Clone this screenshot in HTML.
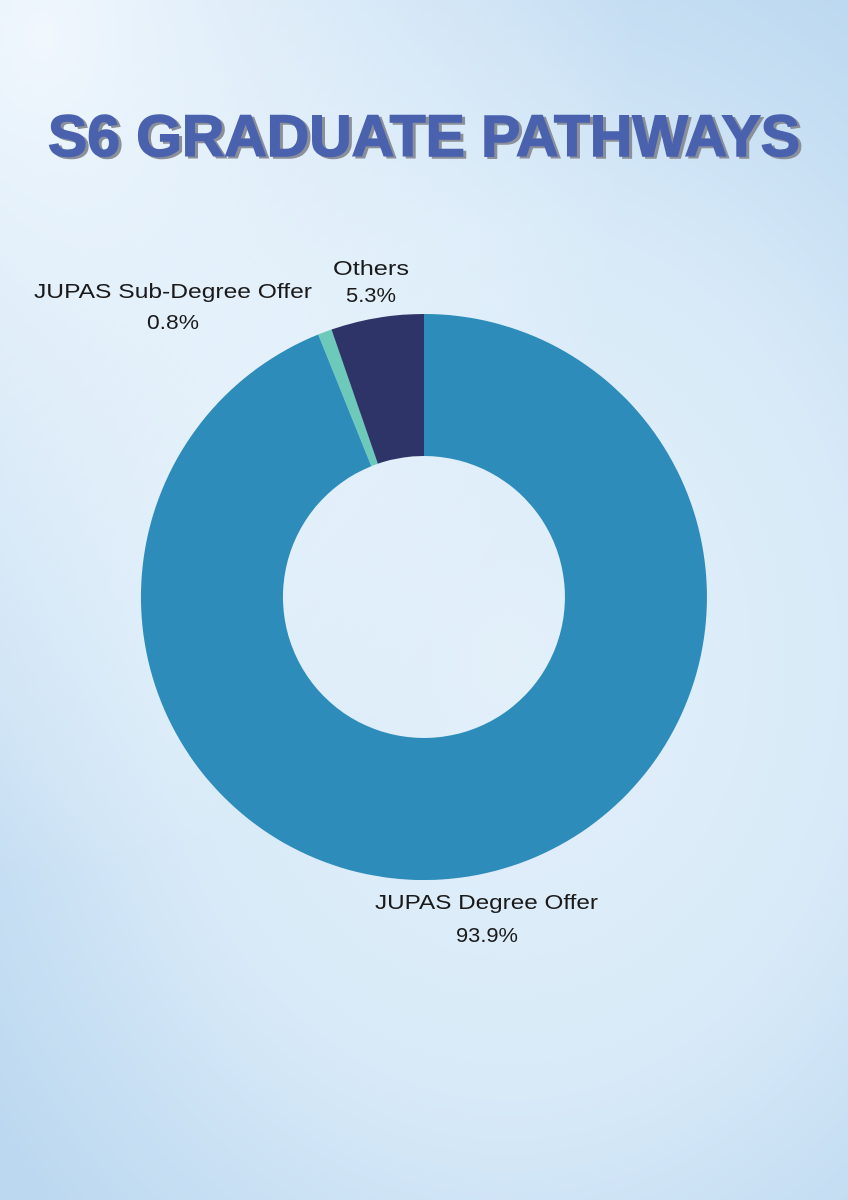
<!DOCTYPE html>
<html><head><meta charset="utf-8"><style>
html,body{margin:0;padding:0}
body{width:848px;height:1200px;overflow:hidden;background:radial-gradient(ellipse 75% 65% at 60% 55%,#e3f0fa 0%,#d8eaf8 55%,#bcd8f0 100%);}
</style></head><body>
<svg width="848" height="1200" viewBox="0 0 848 1200" xmlns="http://www.w3.org/2000/svg" style="position:absolute;left:0;top:0">
<defs>
<radialGradient id="bg" cx="0.05" cy="0.03" r="0.7">
<stop offset="0" stop-color="#f3f9fe" stop-opacity="0.95"/>
<stop offset="1" stop-color="#f3f9fe" stop-opacity="0"/>
</radialGradient>
</defs>
<rect width="848" height="1200" fill="url(#bg)"/>
<g font-family="Liberation Sans, sans-serif" font-weight="bold" font-size="58" stroke-width="1.5">
<text x="51" y="158" textLength="752" lengthAdjust="spacingAndGlyphs" fill="#8a8f99" stroke="#8a8f99">S6 GRADUATE PATHWAYS</text>
<text x="48" y="156" textLength="752" lengthAdjust="spacingAndGlyphs" fill="#4a62ae" stroke="#4a62ae">S6 GRADUATE PATHWAYS</text>
</g>
<path d="M424,314 A283 283 0 1 1 318.2,334.5 L371.3,466.2 A141 141 0 1 0 424,456 Z" fill="#2d8cba"/>
<path d="M318.2,334.5 A283 283 0 0 1 331.5,329.5 L377.9,463.7 A141 141 0 0 0 371.3,466.2 Z" fill="#6dcabb"/>
<path d="M331.5,329.5 A283 283 0 0 1 424,314 L424,456 A141 141 0 0 0 377.9,463.7 Z" fill="#2f3468"/>
<g font-family="Liberation Sans, sans-serif" font-size="20" fill="#1a1a1a">
<text x="333" y="275" textLength="76" lengthAdjust="spacingAndGlyphs">Others</text>
<text x="346" y="302" textLength="50" lengthAdjust="spacingAndGlyphs">5.3%</text>
<text x="34" y="298" textLength="278" lengthAdjust="spacingAndGlyphs">JUPAS Sub-Degree Offer</text>
<text x="147" y="329" textLength="52" lengthAdjust="spacingAndGlyphs">0.8%</text>
<text x="375" y="909" textLength="223" lengthAdjust="spacingAndGlyphs">JUPAS Degree Offer</text>
<text x="456" y="942" textLength="62" lengthAdjust="spacingAndGlyphs">93.9%</text>
</g>
</svg>
</body></html>
